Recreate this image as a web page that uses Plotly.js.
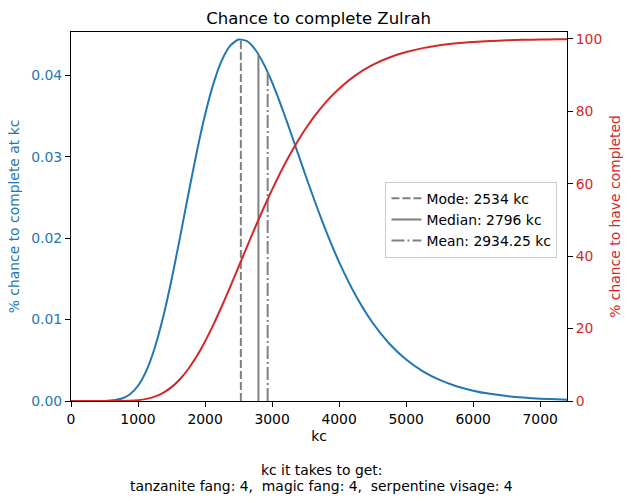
<!DOCTYPE html>
<html>
<head>
<meta charset="utf-8">
<script src="https://cdn.plot.ly/plotly-3.0.1.min.js"></script>
<style>
  html, body { margin: 0; padding: 0; background: #fff; }
  #chart { width: 631px; height: 503px; }
</style>
</head>
<body>
<div id="chart"></div>
<script>
// kill count grid and the two curves
// (denser around the hump so the line stays smooth)
const kc = [0, 250, 500, 750, 875, 1000, 1125, 1250, 1375, 1500, 1625, 1750, 1875, 2000,
  2125, 2250, 2375, 2500, 2625, 2750, 2875, 3000, 3125, 3250, 3375, 3500, 3625, 3750,
  3875, 4000, 4250, 4500, 4750, 5000, 5250, 5500, 5750, 6000, 6250, 6500, 6750, 7000,
  7250, 7400];
const pdfPct = [0, 0, 0.00001, 0.00027, 0.00079, 0.00187, 0.00373, 0.00654, 0.01031, 0.01490,
  0.02004, 0.02538, 0.03053, 0.03516, 0.03900, 0.04185, 0.04366, 0.04442, 0.04421, 0.04316,
  0.04142, 0.03915, 0.03652, 0.03365, 0.03068, 0.02771, 0.02482, 0.02205, 0.01947, 0.01707,
  0.01293, 0.00961, 0.00704, 0.00509, 0.00364, 0.00259, 0.00182, 0.00127, 0.00088, 0.00061,
  0.00042, 0.00029, 0.00020, 0.00016];
const cdfPct = [0, 0, 0.0005, 0.023, 0.084, 0.243, 0.584, 1.216, 2.260, 3.828, 6.008, 8.846,
  12.343, 16.457, 21.102, 26.164, 31.521, 37.036, 42.585, 48.052, 53.345, 58.385, 63.118,
  67.506, 71.526, 75.175, 78.458, 81.386, 83.979, 86.261, 89.993, 92.794, 94.861, 96.366,
  97.449, 98.221, 98.766, 99.149, 99.415, 99.600, 99.728, 99.815, 99.875, 99.901];

// summary stats drawn as vertical lines up to the curve
const statNames = ['Mode', 'Median', 'Mean'];
const statKc = [2534, 2796, 2934.25];
const statTop = [0.04445, 0.04259, 0.04040];
const statDash = ['8px,3px', 'solid', '13px,3px,2px,3px'];

const xTicks = [0, 1000, 2000, 3000, 4000, 5000, 6000, 7000];
const leftTicks = [0, 0.01, 0.02, 0.03, 0.04];
const rightTicks = [0, 20, 40, 60, 80, 100];

const captionLines = [
  'kc it takes to get:',
  'tanzanite fang: 4,\u00a0 magic fang: 4,\u00a0 serpentine visage: 4',
];

const BLUE = '#1f77b4';
const RED = '#d62728';
const GRAY = '#808080';
const FONT = 'DejaVu Sans, sans-serif';
const LABEL_SIZE = 13.9;

const statTraces = statNames.map((name, i) => ({
  type: 'scatter',
  mode: 'lines',
  x: [statKc[i], statKc[i]],
  y: [0, statTop[i]],
  name: `${name}: ${statKc[i]} kc`,
  line: { color: GRAY, width: 2, dash: statDash[i] },
  hoverinfo: 'skip',
}));

const data = [
  {
    type: 'scatter',
    mode: 'lines',
    x: kc,
    y: pdfPct,
    line: { color: BLUE, width: 2, shape: 'spline', smoothing: 0.6 },
    showlegend: false,
  },
  ...statTraces,
  {
    type: 'scatter',
    mode: 'lines',
    x: kc,
    y: cdfPct,
    yaxis: 'y2',
    line: { color: RED, width: 2, shape: 'spline', smoothing: 0.6 },
    showlegend: false,
  },
];

const axisBase = {
  showgrid: false,
  zeroline: false,
  showline: true,
  linecolor: '#000',
  linewidth: 1,
  ticks: 'outside',
  ticklen: 5,
  tickwidth: 1,
  tickcolor: '#000',
  tickfont: { size: LABEL_SIZE },
};

// two caption lines placed separately, matplotlib spaces them tighter than plotly
const captionY = [-0.188, -0.2315];
const annotations = captionLines.map((text, i) => ({
  xref: 'paper',
  yref: 'paper',
  x: 0.505,
  y: captionY[i],
  xanchor: 'center',
  yanchor: 'middle',
  showarrow: false,
  text,
  font: { size: LABEL_SIZE, color: '#000' },
}));

const layout = {
  width: 631,
  height: 503,
  margin: { l: 71, r: 64, t: 32, b: 102 },
  paper_bgcolor: '#fff',
  plot_bgcolor: '#fff',
  font: { family: FONT, size: LABEL_SIZE, color: '#000' },
  title: {
    text: 'Chance to complete Zulrah',
    font: { size: 16.5, color: '#000' },
    x: 0.505,
    xanchor: 'center',
    y: 0.964,
    yanchor: 'middle',
  },
  xaxis: {
    ...axisBase,
    mirror: true,
    range: [0, 7400],
    tickvals: xTicks,
    ticktext: xTicks.map(String),
    title: { text: 'kc', font: { size: LABEL_SIZE }, standoff: 5 },
  },
  yaxis: {
    ...axisBase,
    range: [0, 0.04534],
    tickvals: leftTicks,
    ticktext: leftTicks.map((v) => v.toFixed(2)),
    tickfont: { size: LABEL_SIZE, color: BLUE },
    title: { text: '% chance to complete at kc', font: { size: LABEL_SIZE, color: BLUE }, standoff: 8 },
  },
  yaxis2: {
    ...axisBase,
    overlaying: 'y',
    side: 'right',
    range: [0, 101.9],
    tickvals: rightTicks,
    ticktext: rightTicks.map(String),
    tickfont: { size: LABEL_SIZE, color: RED },
    title: { text: '% chance to have completed', font: { size: LABEL_SIZE, color: RED }, standoff: 8 },
  },
  legend: {
    x: 0.634,
    y: 0.594,
    xanchor: 'left',
    yanchor: 'top',
    bgcolor: 'rgba(255,255,255,0.8)',
    bordercolor: '#cccccc',
    borderwidth: 1,
    font: { size: LABEL_SIZE },
  },
  annotations,
};

Plotly.newPlot('chart', data, layout, { displayModeBar: false, staticPlot: true });
</script>
</body>
</html>
